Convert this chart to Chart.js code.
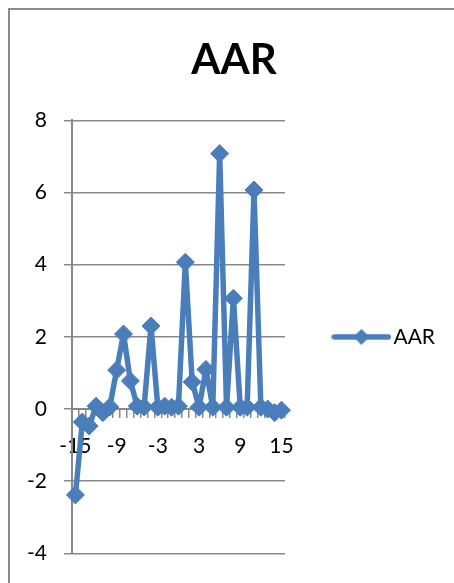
<!DOCTYPE html>
<html>
<head>
<meta charset="utf-8">
<script src="https://cdn.jsdelivr.net/npm/chart.js@4/dist/chart.umd.min.js"></script>
<style>
  html, body { margin: 0; padding: 0; background: #fff; }
  #wrap { width: 454px; height: 583px; position: relative; }
</style>
</head>
<body>
<div id="wrap"><canvas id="c" width="454" height="583"></canvas></div>
<script>
// Event days relative to the announcement
const days = [-15, -14, -13, -12, -11, -10, -9, -8, -7, -6, -5, -4, -3, -2, -1,
              0, 1, 2, 3, 4, 5, 6, 7, 8, 9, 10, 11, 12, 13, 14, 15];
// Average abnormal return per day
const aar = [-2.38, -0.36, -0.47, 0.08, -0.1, 0.06, 1.08, 2.08, 0.78, 0.08, 0.06, 2.3, 0.05, 0.08, 0.05,
             0.08, 4.07, 0.75, 0.05, 1.1, 0.05, 7.08, 0.05, 3.07, 0.05, 0.05, 6.07, 0.05, 0.0, -0.1, -0.03];
// Day labels shown along the x axis
const dayLabels = [-15, -9, -3, 3, 9, 15];
// Value ticks on the y axis
const yTicks = [-4, -2, 0, 2, 4, 6, 8];

const BLUE = '#4A7EBB';
const GRID = '#888888';
const FONT = 'Lato, "Liberation Sans", sans-serif';

// Legend swatch: a short line with a diamond in its middle
function legendSwatch() {
  const c = document.createElement('canvas');
  c.width = 60; c.height = 18;
  const g = c.getContext('2d');
  g.strokeStyle = BLUE; g.fillStyle = BLUE;
  g.lineWidth = 5.5; g.lineCap = 'round';
  g.beginPath(); g.moveTo(3, 9); g.lineTo(57, 9); g.stroke();
  const cx = 30, cy = 9, r = 8;
  g.beginPath();
  g.moveTo(cx - r, cy); g.lineTo(cx, cy - r); g.lineTo(cx + r, cy); g.lineTo(cx, cy + r);
  g.closePath(); g.fill();
  return c;
}
const swatch = legendSwatch();

// Outer frame of the chart
const framePlugin = {
  id: 'frame',
  beforeDraw(chart) {
    const ctx = chart.ctx;
    ctx.save();
    ctx.fillStyle = '#fff';
    ctx.fillRect(0, 0, chart.width, chart.height);
    ctx.strokeStyle = '#8a8a8a';
    ctx.lineWidth = 2;
    ctx.strokeRect(9, 9, 700, 700);
    ctx.restore();
  }
};

new Chart(document.getElementById('c'), {
  type: 'line',
  data: {
    labels: days,
    datasets: [{
      label: 'AAR',
      data: aar,
      borderColor: BLUE,
      backgroundColor: BLUE,
      borderWidth: 5.5,
      borderJoinStyle: 'round',
      borderCapStyle: 'round',
      pointStyle: 'rectRot',
      pointRadius: 9,
      pointBorderWidth: 1,
      pointBackgroundColor: BLUE,
      pointBorderColor: BLUE,
      tension: 0
    }]
  },
  options: {
    responsive: false,
    animation: false,
    events: [],
    layout: { padding: { top: 0, left: 23, right: 9, bottom: 29 } },
    plugins: {
      title: {
        display: true,
        text: 'AAR',
        color: '#000',
        font: { family: FONT, size: 42, weight: 'bold', lineHeight: 1.2 },
        padding: { top: 35, bottom: 35 }
      },
      legend: {
        position: 'right',
        fullSize: false,
        maxWidth: 171,
        labels: {
          usePointStyle: true,
          pointStyleWidth: 43,
          padding: 55,
          color: '#000',
          font: { family: FONT, size: 21 },
          generateLabels(chart) {
            return chart.data.datasets.map((ds, i) => ({
              text: ds.label,
              pointStyle: swatch,
              fillStyle: BLUE,
              strokeStyle: BLUE,
              lineWidth: 0,
              hidden: false,
              datasetIndex: i,
              fontColor: '#000'
            }));
          }
        }
      },
      tooltip: { enabled: false }
    },
    scales: {
      x: {
        type: 'category',
        position: { y: 0 },
        offset: true,
        grid: {
          offset: true,
          display: true,
          drawOnChartArea: false,
          drawTicks: true,
          tickLength: 8,
          color: GRID,
          lineWidth: 1.5
        },
        border: { display: true, color: GRID, width: 2 },
        ticks: {
          autoSkip: false,
          maxRotation: 0,
          padding: 17,
          color: '#000',
          font: { family: FONT, size: 21 },
          callback(value, index) {
            const d = days[index];
            return dayLabels.includes(d) ? String(d) : '';
          }
        }
      },
      y: {
        type: 'linear',
        position: 'left',
        min: yTicks[0],
        max: yTicks[yTicks.length - 1],
        afterFit(scale) { scale.width = 49; },
        afterBuildTicks(scale) { scale.ticks = yTicks.map(v => ({ value: v })); },
        grid: {
          color: GRID,
          lineWidth: 1.5,
          drawTicks: true,
          tickLength: 8
        },
        border: { display: true, color: GRID, width: 2 },
        ticks: {
          padding: 17,
          color: '#000',
          font: { family: FONT, size: 21 }
        }
      }
    }
  },
  plugins: [framePlugin]
});
</script>
</body>
</html>
